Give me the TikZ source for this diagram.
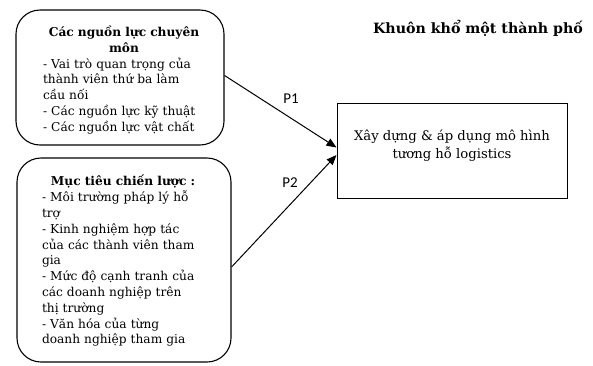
\documentclass[tikz,border=0pt]{standalone}
\usepackage{fontspec}
\setmainfont{DejaVu Serif}
\newfontfamily\plabel{Carlito}
\usetikzlibrary{arrows.meta}
\newcommand{\hdr}[1]{\makebox[\linewidth][c]{\bfseries #1}}
\begin{document}
\begin{tikzpicture}[x=1pt,y=-1pt,
  rbox/.style={draw, line width=1.1pt, rounded corners=24pt, inner sep=0pt},
  rtext/.style={inner sep=0pt, align=left, text width=162pt,
    font=\fontsize{12.2}{15.8}\selectfont},
  sbox/.style={draw, line width=1pt, inner sep=0pt},
  stext/.style={inner sep=0pt, align=center, font=\fontsize{13.2}{18}\selectfont},
  conn/.style={line width=1pt, -{Triangle[length=10pt,width=8pt]}},
  plab/.style={font=\plabel\fontsize{15}{15}\selectfont},
  title/.style={font=\bfseries\fontsize{14.2}{16}\selectfont}]
\useasboundingbox (0,0) rectangle (593,365);
\node[rbox, minimum width=208pt, minimum height=135pt] (b1) at (120,77.5) {};
\node[rtext] (b1t) at (124,80)
  {\hdr{Các nguồn lực chuyên}\\ \hdr{môn}\\
   - Vai trò quan trọng của\\ thành viên thứ ba làm\\ cầu nối\\ - Các nguồn lực kỹ thuật\\ - Các nguồn lực vật chất};
\node[rbox, minimum width=214pt, minimum height=204pt] (b2) at (124,260) {};
\node[rtext] (b2t) at (123,261)
  {\hdr{Mục tiêu chiến lược :}\\
   - Môi trường pháp lý hỗ\\ trợ\\ - Kinh nghiệm hợp tác\\ của các thành viên tham\\ gia\\ - Mức độ cạnh tranh của\\ các doanh nghiệp trên\\ thị trường\\ - Văn hóa của từng\\ doanh nghiệp tham gia};
\node[sbox, minimum width=230pt, minimum height=95pt] (rb) at (452,150.5) {};
\node[stext] (rbt) at (452,146) {Xây dựng \& áp dụng mô hình\\ tương hỗ logistics};
\node[title] (t) at (478,28) {Khuôn khổ một thành phố};
\draw[conn] ([yshift=2pt]b1.east) -- ([yshift=3pt]rb.west);
\draw[conn] ([yshift=-7pt]b2.east) -- ([yshift=-4.5pt]rb.west);
\node[plab] (p1) at (291,99) {P1};
\node[plab] (p2) at (290,183) {P2};
\end{tikzpicture}
\end{document}
